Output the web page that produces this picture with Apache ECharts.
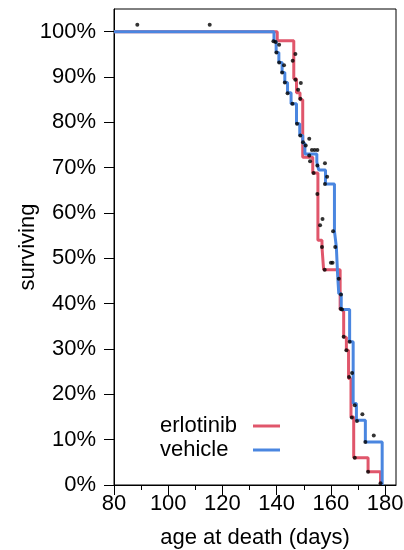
<!DOCTYPE html>
<html>
<head>
<meta charset="utf-8">
<script src="https://cdn.jsdelivr.net/npm/echarts@6/dist/echarts.min.js"></script>
<style>html,body{margin:0;padding:0;background:#fff}#c{width:404px;height:550px}</style>
</head>
<body>
<div id="c"></div>
<script>
// Kaplan-Meier step data (day at which survival changes, survival % after the change)
const erlotinibDays = [80, 140.2, 146.3, 147.3, 148.6, 149.6, 153.3, 155.2, 156.7, 157.3, 163.4, 164.7, 165.7, 166.5, 167.4, 168.4, 173.7, 178.3];
const erlotinibSurv = [100, 98, 89.6, 86.5, 85, 72.3, 68.8, 54, 52.5, 47.5, 38.7, 32.6, 29.7, 23.5, 15, 6, 2.9, 0];
const vehicleDays = [80, 139, 139.8, 140.8, 142, 143, 144, 145.3, 147.3, 148.5, 149.6, 150.4, 154.8, 155.5, 158, 161.3, 162, 162.5, 162.9, 163.8, 166.9, 168.2, 169.4, 172.7, 178.9];
const vehicleSurv = [100, 97.9, 95.4, 93.2, 91, 88.8, 86.5, 84.1, 79.7, 77.1, 75.4, 73, 71.2, 69.5, 66.4, 56, 52.5, 46, 42.2, 38.7, 31.6, 18, 14.3, 9.5, 0];
// individual points (day, survival %)
const pointDays = [88.6, 115.3, 138.8, 139.6, 140.9, 139.9, 140.9, 142.7, 142, 143, 144, 146.9, 145.9, 146.9, 148.9, 147.9, 148.7, 145.8, 147.5, 148.7, 149.7, 152, 150.7, 153, 154, 155, 152, 152.3, 155, 157.8, 153.6, 158.6, 157.8, 155, 156.9, 156, 160.8, 156.7, 161.6, 160, 160.6, 157.7, 162.9, 163.7, 164.1, 163.6, 164.7, 166.9, 165.7, 167.8, 166.7, 168.8, 171.6, 167.7, 169.6, 175.8, 172.7, 168.8, 173.7, 178.3];
const pointSurv = [101.5, 101.5, 97.9, 97.7, 97.1, 95.4, 93.2, 92.6, 91, 88.8, 86.4, 95.1, 93.6, 89.4, 88.7, 87.2, 85.2, 84.1, 79.7, 77.1, 75.6, 76.4, 74.9, 73.9, 73.9, 73.9, 72.7, 71.4, 70.5, 71, 68.8, 68, 66.4, 64.2, 58.7, 57.3, 56, 52.5, 52.5, 49, 49, 47.5, 45.5, 42, 38.7, 38.9, 32.7, 31.6, 29.7, 24.7, 23.8, 17.6, 15.6, 14.9, 14.1, 10.9, 9.5, 6, 2.9, 0.4];
const xMajorTicks = [80, 100, 120, 140, 160, 180];
const xMinorTicks = [90, 110, 130, 150, 170];
const yTicks = [0, 10, 20, 30, 40, 50, 60, 70, 80, 90, 100];

const zip = (a, b) => a.map((v, i) => [v, b[i]]);
const FONT = 'Liberation Sans, Arial, sans-serif';
const chart = echarts.init(document.getElementById('c'), null, {renderer: 'canvas'});
chart.setOption({
  animation: false,
  backgroundColor: '#fff',
  grid: {left: 114, right: 8, top: 9, bottom: 65, show: true, borderColor: '#000', borderWidth: 1,
         backgroundColor: 'transparent', outerBoundsMode: 'none', containLabel: false},
  legend: {
    data: ['erlotinib', 'vehicle'], orient: 'vertical', left: 160, top: 415, padding: 0, align: 'right',
    icon: 'rect', itemWidth: 27, itemHeight: 3, itemGap: 2, selectedMode: false,
    formatter: name => '{t|' + name + '}',
    textStyle: {fontSize: 22, fontFamily: FONT, color: '#000', lineHeight: 22,
      rich: {t: {fontSize: 22, fontFamily: FONT, color: '#000', width: 88, align: 'left', lineHeight: 22}}}
  },
  xAxis: [{
    type: 'value', min: 80, max: 184, position: 'bottom',
    name: 'age at death (days)', nameLocation: 'middle', nameGap: 42, nameMoveOverlap: false,
    nameTextStyle: {fontSize: 22, fontFamily: FONT, color: '#000'},
    axisLine: {show: true, lineStyle: {color: '#000', width: 1}},
    axisTick: {show: true, inside: false, length: 10, lineStyle: {color: '#000', width: 1}, customValues: xMajorTicks},
    axisLabel: {fontSize: 22, fontFamily: FONT, color: '#000', margin: 8, customValues: xMajorTicks},
    splitLine: {show: false}
  }, {
    type: 'value', min: 80, max: 184, position: 'bottom',
    axisLine: {show: false},
    axisTick: {show: true, length: 5, lineStyle: {color: '#000', width: 1}, customValues: xMinorTicks},
    axisLabel: {show: false},
    splitLine: {show: false}
  }],
  yAxis: {
    type: 'value', min: 0, max: 105,
    name: 'surviving', nameLocation: 'middle', nameGap: 75, nameRotate: 90, nameMoveOverlap: false,
    nameTextStyle: {fontSize: 22, fontFamily: FONT, color: '#000'},
    axisLine: {show: true, lineStyle: {color: '#000', width: 1}},
    axisTick: {show: true, inside: false, length: 10, lineStyle: {color: '#000', width: 1}, customValues: yTicks},
    axisLabel: {fontSize: 22, fontFamily: FONT, color: '#000', margin: 18, formatter: v => v + '%', customValues: yTicks},
    splitLine: {show: false}
  },
  series: [
    {name: 'erlotinib', type: 'line', step: 'end', data: zip(erlotinibDays, erlotinibSurv), symbol: 'none',
     itemStyle: {color: '#e0566b'}, lineStyle: {color: '#e0566b', width: 3}, z: 2},
    {name: 'vehicle', type: 'line', step: 'end', data: zip(vehicleDays, vehicleSurv), symbol: 'none',
     itemStyle: {color: '#4a86e0'}, lineStyle: {color: '#4a86e0', width: 3}, z: 3},
    {name: 'points', type: 'scatter', data: zip(pointDays, pointSurv), symbol: 'circle', symbolSize: 4,
     itemStyle: {color: '#000'}, z: 5, silent: true}
  ]
});
</script>
</body>
</html>
